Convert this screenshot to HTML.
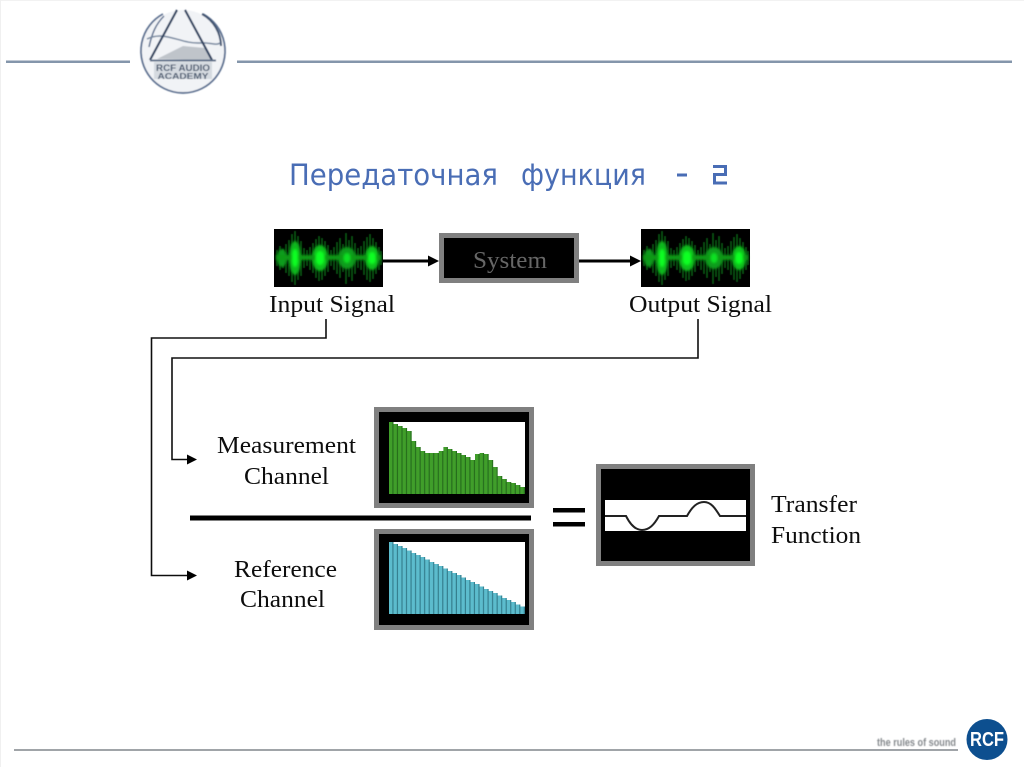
<!DOCTYPE html>
<html lang="ru">
<head>
<meta charset="utf-8">
<title>Передаточная функция - 2</title>
<style>
html,body{margin:0;padding:0;background:#fff;width:1024px;height:767px;overflow:hidden}
svg{display:block}
.t{font-family:"Liberation Serif",serif;font-size:24px;fill:#111}
.h{font-family:"DejaVu Sans","Liberation Sans",sans-serif;font-size:29px;fill:#4a6db5}
</style>
</head>
<body>
<svg width="1024" height="767" viewBox="0 0 1024 767" xmlns="http://www.w3.org/2000/svg">
<defs>
<filter id="b0" x="-5%" y="-5%" width="110%" height="110%"><feGaussianBlur stdDeviation="0.35"/></filter>
<filter id="b1" x="-30%" y="-30%" width="160%" height="160%"><feGaussianBlur stdDeviation="1.3"/></filter>
<filter id="b2" x="-30%" y="-30%" width="160%" height="160%"><feGaussianBlur stdDeviation="0.6"/></filter>
<filter id="b4" x="-30%" y="-30%" width="160%" height="160%"><feGaussianBlur stdDeviation="0.6"/></filter>
<pattern id="gs" width="4.53" height="10" patternUnits="userSpaceOnUse" x="389">
<rect width="4.53" height="10" fill="#3f9e2c"/><rect x="3.4" width="1.1" height="10" fill="#256a1c"/>
</pattern>
<pattern id="bs" width="4.53" height="10" patternUnits="userSpaceOnUse" x="389">
<rect width="4.53" height="10" fill="#5cbccd"/><rect x="3.4" width="1.1" height="10" fill="#327a8a"/>
</pattern>
<g id="sig">
<rect x="274" y="229" width="109" height="58" fill="#000"/>
<g filter="url(#b4)" stroke="#0a7a16" stroke-width="1.500" opacity="0.8">
<path d="M277 250V266M280 246V270M283 249V268M286 244V273M289 240V276M292 234V282M295 231V285M298 236V280M301 241V276M304 248V268M307 250V266M310 247V270M313 243V273M316 239V278M319 236V281M322 238V280M325 241V276M328 245V272M331 250V266M334 247V270M337 242V274M340 238V278M343 244V272M346 233V284M349 240V277M352 236V281M355 243V274M358 248V268M361 246V270M364 241V275M367 237V280M370 234V282M373 238V279M376 242V274M379 247V270M381 251V265"/>
</g>
<g filter="url(#b1)">
<ellipse cx="295" cy="258" rx="6" ry="17" fill="#0fb81f"/>
<ellipse cx="320" cy="258" rx="8" ry="13" fill="#0fc01f"/>
<ellipse cx="347" cy="258" rx="9" ry="11" fill="#0c9c1a"/>
<ellipse cx="372" cy="258" rx="7" ry="12" fill="#0fc01f"/>
<ellipse cx="282" cy="258" rx="5" ry="9" fill="#0c9c1a"/>
<rect x="276" y="255" width="105" height="5" fill="#0a9a18"/>
<ellipse cx="295" cy="258" rx="3" ry="9" fill="#10ff20"/>
<ellipse cx="320" cy="258" rx="4.500" ry="7" fill="#10ff20"/>
<ellipse cx="372" cy="258" rx="4" ry="6" fill="#10ff20"/>
<ellipse cx="347" cy="258" rx="3.500" ry="5" fill="#10e020"/>
</g>
</g>
</defs>
<rect width="1024" height="767" fill="#fff"/>
<rect x="0" y="0" width="1024" height="1" fill="#f2f2f2"/>
<rect x="0" y="0" width="1" height="767" fill="#f0f0f0"/>

<g filter="url(#b0)">
<!-- header -->
<rect x="6" y="60.500" width="124" height="2.500" fill="#8496ab"/>
<rect x="237" y="60.500" width="775" height="2.500" fill="#8496ab"/>

<!-- title -->
<text class="h" x="289" y="185" textLength="209" lengthAdjust="spacingAndGlyphs">Передаточная</text>
<text class="h" x="521" y="185" textLength="125" lengthAdjust="spacingAndGlyphs">функция</text>
<rect x="677" y="173.500" width="10" height="3" fill="#4a6db5"/>
<path d="M713 166.500 H725.500 V174.500 H714.500 V183 H727" fill="none" stroke="#4a6db5" stroke-width="3"/>

<!-- top row -->
<use href="#sig"/>
<use href="#sig" x="367"/>
<rect x="441.500" y="235.500" width="135" height="45" fill="#000" stroke="#808080" stroke-width="5"/>
<text x="473" y="268" font-family="Liberation Serif,serif" font-size="24" fill="#666" textLength="74" lengthAdjust="spacingAndGlyphs">System</text>
<rect x="383" y="259.500" width="46" height="3" fill="#000"/>
<path d="M428 255.500 L439 261 L428 266.500 Z" fill="#000"/>
<rect x="579" y="259.500" width="53" height="3" fill="#000"/>
<path d="M630 255.500 L641 261 L630 266.500 Z" fill="#000"/>
<text class="t" x="269" y="312" textLength="126" lengthAdjust="spacingAndGlyphs">Input Signal</text>
<text class="t" x="629" y="312" textLength="143" lengthAdjust="spacingAndGlyphs">Output Signal</text>

<!-- connectors -->
<path d="M326 319 V338 H151.500 V575.500 H188" fill="none" stroke="#111" stroke-width="1.600"/>
<path d="M698 319 V358 H172 V459.500 H188" fill="none" stroke="#111" stroke-width="1.600"/>
<path d="M187 454.500 L197 459.500 L187 464.500 Z" fill="#000"/>
<path d="M187 570.500 L197 575.500 L187 580.500 Z" fill="#000"/>

<!-- measurement -->
<text class="t" x="217" y="453" textLength="139" lengthAdjust="spacingAndGlyphs">Measurement</text>
<text class="t" x="244" y="484" textLength="85" lengthAdjust="spacingAndGlyphs">Channel</text>
<rect x="376.500" y="409.500" width="155" height="96" fill="#000" stroke="#808080" stroke-width="5"/>
<rect x="389" y="422" width="136" height="72" fill="#fff"/>
<path fill="url(#gs)" d="M389 494 V422 H393.500 V424 H398 V426 H402.600 V428 H407.100 V431 H411.700 V441 H416.200 V447 H420.700 V451 H425.200 V453 H438.800 V451 H443.400 V447 H447.900 V449 H452.400 V451 H457 V453 H461.500 V455 H466 V457 H470.500 V460 H475 V454 H479.600 V453 H484.100 V454 H488.700 V460 H493.200 V467 H497.700 V476 H502.300 V479 H506.800 V482 H511.300 V483 H515.900 V485 H520.400 V487 H525 V494 Z"/>

<!-- divider and equals -->
<rect x="190" y="515.500" width="341" height="5" fill="#000"/>
<rect x="553" y="508" width="32" height="4.500" fill="#000"/>
<rect x="553" y="522" width="32" height="4.500" fill="#000"/>

<!-- reference -->
<text class="t" x="234" y="577" textLength="103" lengthAdjust="spacingAndGlyphs">Reference</text>
<text class="t" x="240" y="607" textLength="85" lengthAdjust="spacingAndGlyphs">Channel</text>
<rect x="376.500" y="531.500" width="155" height="96" fill="#000" stroke="#808080" stroke-width="5"/>
<rect x="389" y="542" width="136" height="72" fill="#fff"/>
<path fill="url(#bs)" d="M389 614 V542 H393.500 V544 H398 V546 H402.600 V548 H407.100 V550.500 H411.700 V553 H416.200 V555 H420.700 V557 H425.200 V559.500 H429.800 V562 H434.300 V564 H438.800 V566 H443.400 V568.500 H447.900 V571 H452.400 V573 H457 V575 H461.500 V577.500 H466 V580 H470.500 V582 H475 V584 H479.600 V586.500 H484.100 V589 H488.700 V591 H493.200 V593 H497.700 V595.500 H502.300 V598 H506.800 V600 H511.300 V602 H515.900 V604.500 H520.400 V606.500 H525 V614 Z"/>

<!-- transfer -->
<rect x="598.500" y="466.500" width="154" height="97" fill="#000" stroke="#808080" stroke-width="5"/>
<rect x="605" y="500" width="141" height="31" fill="#fff"/>
<path d="M605 516 H626 C631 526 636 530 642 530 C649 530 654 525 659 516 H687 C692 507 697 502 704 502 C711 502 715 508 720 516 H746" fill="none" stroke="#222" stroke-width="2"/>
<text class="t" x="771" y="512" textLength="86" lengthAdjust="spacingAndGlyphs">Transfer</text>
<text class="t" x="771" y="543" textLength="90" lengthAdjust="spacingAndGlyphs">Function</text>

<!-- footer -->
<rect x="14" y="749" width="944" height="2" fill="#a0a4a8"/>
<circle cx="987" cy="739.500" r="20.500" fill="#0c4f8f"/>
<text x="987" y="746" text-anchor="middle" font-family="Liberation Sans,sans-serif" font-weight="bold" font-size="20" fill="#fff" textLength="34" lengthAdjust="spacingAndGlyphs">RCF</text>
</g>

<!-- footer tagline -->
<text x="877" y="746" font-family="Liberation Sans,sans-serif" font-weight="bold" font-size="11" fill="#85898d" textLength="79" lengthAdjust="spacingAndGlyphs" filter="url(#b2)">the rules of sound</text>

<!-- logo -->
<g filter="url(#b2)">
<circle cx="183" cy="51" r="41" fill="#f1f3f6"/>
<path d="M163 14 A42 42 0 1 0 203 14" fill="none" stroke="#5d7191" stroke-width="1.800"/>
<path d="M202 14 A37 37 0 0 1 221 46" fill="none" stroke="#3f5270" stroke-width="2"/>
<path d="M149 47 C152 33 156 24 164 16" fill="none" stroke="#5d7191" stroke-width="1.500"/>
<path d="M147 39 C165 30 180 44 200 43 C210 42 216 46 220 43" fill="none" stroke="#74869e" stroke-width="1.500"/>
<path d="M157 59 L183 46 L205 48 L213 60 Z" fill="#bfc4ca"/>
<path d="M150 60 L177 10 M185 10 L212 60" fill="none" stroke="#2f4360" stroke-width="2.200"/>
<rect x="150" y="59.500" width="66" height="2" fill="#5f718a"/>
<rect x="154" y="62" width="58" height="17" fill="#d5dae0"/>
<text x="183" y="71" text-anchor="middle" font-family="Liberation Sans,sans-serif" font-weight="bold" font-size="9.500" fill="#48596f" textLength="54" lengthAdjust="spacingAndGlyphs">RCF AUDIO</text>
<text x="183" y="79" text-anchor="middle" font-family="Liberation Sans,sans-serif" font-weight="bold" font-size="8.500" fill="#48596f" textLength="51" lengthAdjust="spacingAndGlyphs">ACADEMY</text>
</g>
</svg>
</body>
</html>
